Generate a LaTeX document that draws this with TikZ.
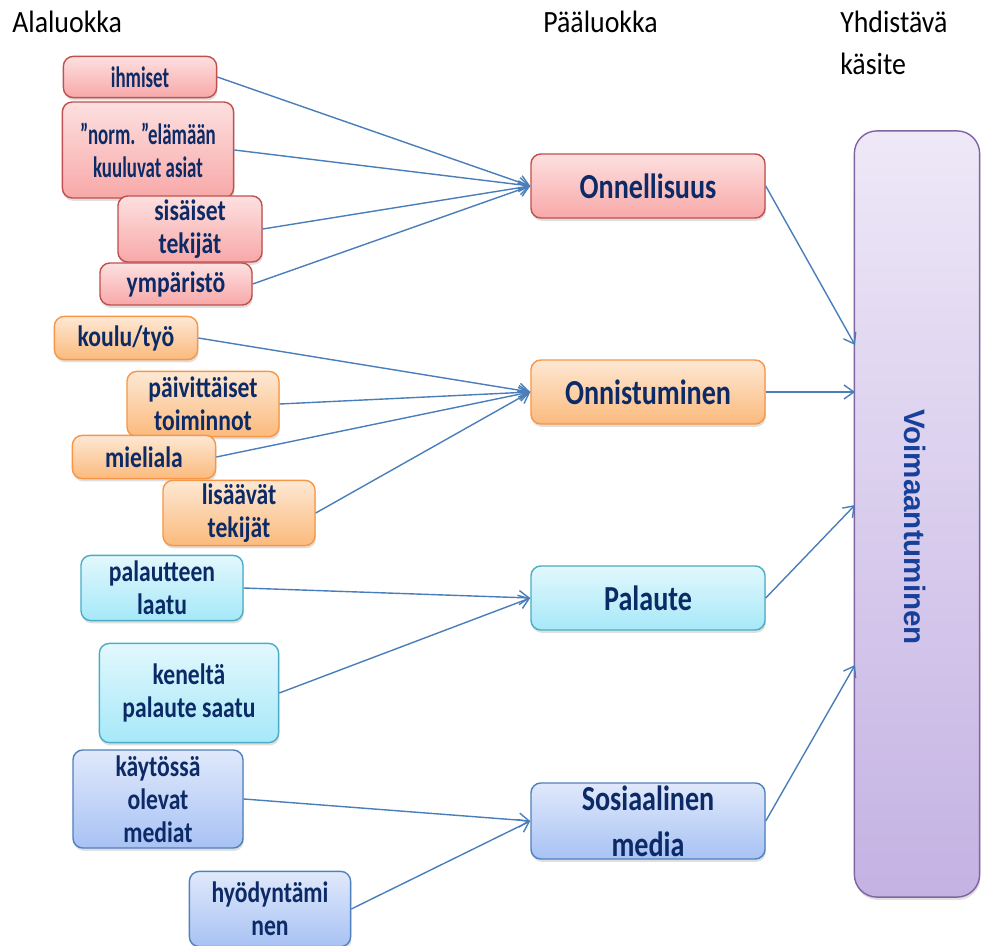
\documentclass[tikz,border=0pt]{standalone}
\usepackage{fontspec}
\usepackage{tikz}
\usetikzlibrary{shadows}
\usetikzlibrary{arrows.meta}
\newfontfamily\boxfont{Carlito}[FakeStretch=0.8]
\newfontfamily\narrowfont{Carlito}[FakeStretch=0.64]
\newfontfamily\headfont{Carlito}[FakeStretch=0.9]
\newfontfamily\bigfont{Liberation Sans}
\definecolor{navytext}{HTML}{0C2A66}
\definecolor{bluetext}{HTML}{17409A}
\definecolor{arrowblue}{HTML}{4A7EBB}
\definecolor{redline}{HTML}{C0504D}
\definecolor{redtop}{HTML}{FDE0E0}
\definecolor{redbot}{HTML}{F8A8A8}
\definecolor{orangeline}{HTML}{F79646}
\definecolor{orangetop}{HTML}{FDE8D4}
\definecolor{orangebot}{HTML}{FBBA7C}
\definecolor{cyanline}{HTML}{4BACC6}
\definecolor{cyantop}{HTML}{E2F8FD}
\definecolor{cyanbot}{HTML}{A6E8F8}
\definecolor{blueline}{HTML}{4F81BD}
\definecolor{bluetop}{HTML}{E0E9FB}
\definecolor{bluebot}{HTML}{A8C2F4}
\definecolor{purpleline}{HTML}{8064A2}
\definecolor{purpletop}{HTML}{EEE8F7}
\definecolor{purplebot}{HTML}{C4B2E3}
\tikzset{mybox/.style={draw, rounded corners=7pt, line width=1pt, inner sep=0pt, align=center, text=navytext, drop shadow={shadow xshift=0.6pt, shadow yshift=-2pt, opacity=0.25}, font=\boxfont\bfseries\fontsize{21}{23.5}\selectfont}}
\tikzset{myboxRed/.style={mybox, draw=redline, top color=redtop, bottom color=redbot}}
\tikzset{myboxOrange/.style={mybox, draw=orangeline, top color=orangetop, bottom color=orangebot}}
\tikzset{myboxCyan/.style={mybox, draw=cyanline, top color=cyantop, bottom color=cyanbot}}
\tikzset{myboxBlue/.style={mybox, draw=blueline, top color=bluetop, bottom color=bluebot}}
\tikzset{myboxMain/.style={minimum width=5.85cm, minimum height=1.6cm, font=\boxfont\bfseries\fontsize{25}{27}\selectfont}}
\tikzset{myarrow/.style={draw=arrowblue, line width=1pt, -{Straight Barb[length=7pt, width=10pt]}}}
\tikzset{myhead/.style={anchor=base west, inner sep=0pt, font=\headfont\fontsize{22}{30}\selectfont, align=left}}

\begin{document}
\begin{tikzpicture}[x=0.025cm, y=-0.025cm]

\useasboundingbox (0,0) rectangle (982,946);

\node[myhead] (hsub) at (12,33) {Alaluokka};
\node[myhead] (hmain) at (543,33) {Pääluokka};
\node[myhead] (hall) at (840,75) {Yhdistävä\\käsite};

\node[myboxRed, minimum width=3.83cm, minimum height=1.03cm, font=\narrowfont\bfseries\fontsize{21}{23.5}\selectfont] (s1) at (140,77) {ihmiset};
\node[myboxRed, minimum width=4.28cm, minimum height=2.4cm, font=\narrowfont\bfseries\fontsize{21}{23.5}\selectfont] (s2) at (148,150) {”norm. ”elämään\\kuuluvat asiat};
\node[myboxRed, minimum width=3.6cm, minimum height=1.65cm] (s3) at (190,229) {sisäiset\\tekijät};
\node[myboxRed, minimum width=3.8cm, minimum height=1.05cm] (s4) at (176,284) {ympäristö};

\node[myboxOrange, minimum width=3.58cm, minimum height=1.08cm] (s5) at (126,338) {koulu/työ};
\node[myboxOrange, minimum width=3.8cm, minimum height=1.63cm] (s6) at (203,404) {päivittäiset\\toiminnot};
\node[myboxOrange, minimum width=3.58cm, minimum height=1.08cm] (s7) at (144,457) {mieliala};
\node[myboxOrange, minimum width=3.8cm, minimum height=1.63cm] (s8) at (239,513) {lisäävät\\tekijät};

\node[myboxCyan, minimum width=4.05cm, minimum height=1.63cm] (s9) at (162,588) {palautteen\\laatu};
\node[myboxCyan, minimum width=4.48cm, minimum height=2.48cm] (s10) at (189,693) {keneltä\\palaute saatu};

\node[myboxBlue, minimum width=4.25cm, minimum height=2.45cm] (s11) at (158,799) {käytössä\\olevat\\mediat};
\node[myboxBlue, minimum width=4.03cm, minimum height=1.88cm] (s12) at (270,909) {hyödyntämi\\nen};

\node[myboxRed, myboxMain] (onn) at (648,186) {Onnellisuus};
\node[myboxOrange, myboxMain] (onni) at (648,392) {Onnistuminen};
\node[myboxCyan, myboxMain] (pal) at (648,598) {Palaute};
\node[myboxBlue, myboxMain, minimum height=1.9cm, font=\boxfont\bfseries\fontsize{25}{33}\selectfont] (some) at (648,821) {Sosiaalinen\\media};

\node[mybox, draw=purpleline, top color=purpletop, bottom color=purplebot, rounded corners=16pt, minimum width=3.13cm, minimum height=19.15cm] (voima) at (917,514) {};
\node[rotate=-90, text=bluetext, font=\bigfont\bfseries\fontsize{21}{24}\selectfont] (voimatxt) at (915,527) {Voimaantuminen};

\coordinate (v1) at (855,345);
\coordinate (v2) at (855,392);
\coordinate (v3) at (855,505);
\coordinate (v4) at (855,665);

\draw[myarrow] (s1.east) to (onn.west);
\draw[myarrow] (s2.east) to (onn.west);
\draw[myarrow] (s3.east) to (onn.west);
\draw[myarrow] (s4.east) to (onn.west);

\draw[myarrow] (s5.east) to (onni.west);
\draw[myarrow] (s6.east) to (onni.west);
\draw[myarrow] (s7.east) to (onni.west);
\draw[myarrow] (s8.east) to (onni.west);

\draw[myarrow] (s9.east) to (pal.west);
\draw[myarrow] (s10.east) to (pal.west);

\draw[myarrow] (s11.east) to (some.west);
\draw[myarrow] (s12.east) to (some.west);

\draw[myarrow] (onn.east) to (v1);
\draw[myarrow] (onni.east) to (v2);
\draw[myarrow] (pal.east) to (v3);
\draw[myarrow] (some.east) to (v4);

\end{tikzpicture}
\end{document}
